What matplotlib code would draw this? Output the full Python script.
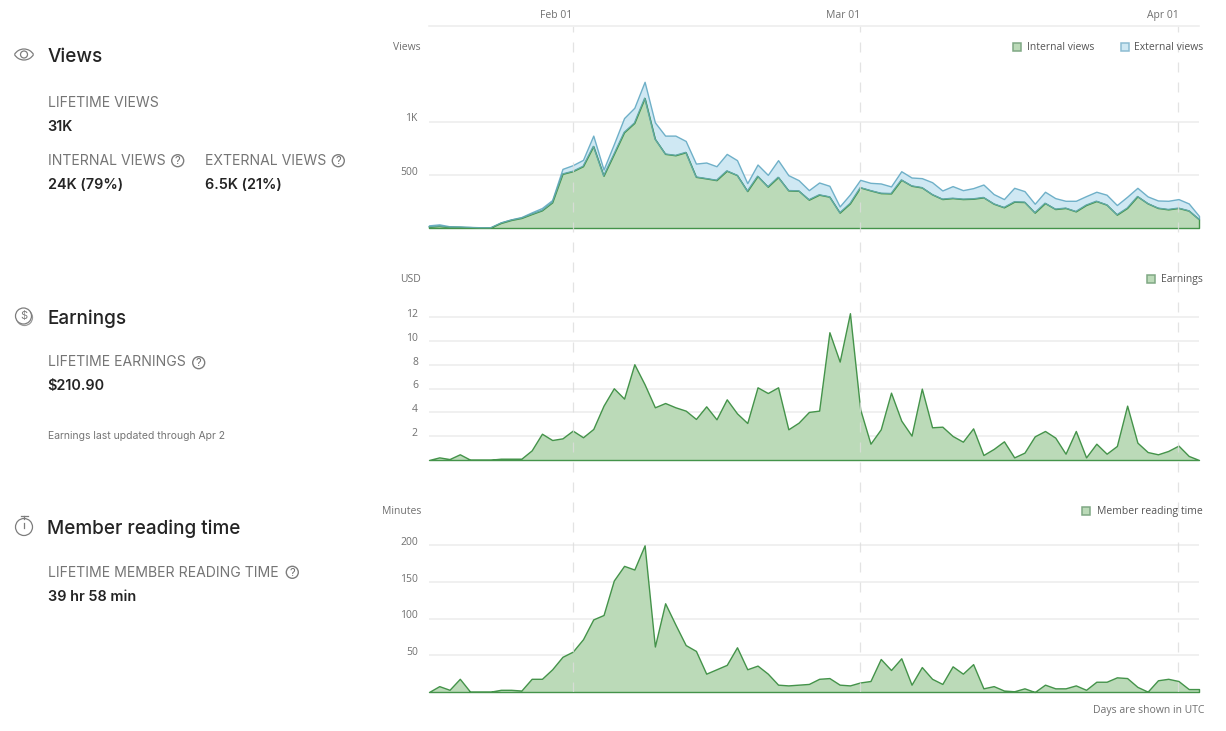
import numpy as np
import pandas as pd
import matplotlib
matplotlib.use("Agg")
import matplotlib.pyplot as plt
from matplotlib.patches import Circle, Rectangle, Arc
from matplotlib.transforms import ScaledTranslation

# Daily values (Jan 18 .. Apr 3)
dates = pd.date_range("2023-01-18", "2023-04-03", freq="D")

internal_views = [12, 19, 9, 9, 6, 3, 3, 47, 75, 94, 131, 166, 241, 509, 534, 581, 769, 491, 694,
                  900, 988, 1222, 838, 697, 684, 712, 481, 466, 450, 538, 497, 347, 488, 388, 478,
                  353, 350, 266, 313, 294, 144, 231, 381, 353, 328, 325, 453, 397, 381, 316, 272,
                  281, 272, 275, 288, 228, 194, 247, 244, 144, 234, 178, 188, 156, 216, 253, 219,
                  125, 188, 297, 231, 188, 175, 188, 163, 81]
total_views = [25, 34, 16, 12, 9, 3, 3, 53, 81, 103, 147, 188, 263, 556, 591, 641, 869, 550, 788,
               1034, 1131, 1375, 994, 869, 869, 819, 606, 616, 581, 697, 638, 422, 597, 500, 638,
               497, 450, 356, 428, 397, 203, 316, 453, 425, 419, 391, 534, 475, 469, 431, 353,
               394, 356, 375, 409, 319, 272, 378, 347, 228, 341, 281, 256, 256, 300, 341, 313,
               216, 294, 378, 297, 259, 256, 272, 231, 113]
earnings = [0, 0.22, 0.08, 0.48, 0.03, 0.03, 0.03, 0.11, 0.11, 0.11, 0.81, 2.21, 1.68, 1.82, 2.47,
            1.91, 2.61, 4.57, 6.03, 5.16, 8.05, 6.36, 4.43, 4.79, 4.43, 4.15, 3.45, 4.51, 3.42, 5.1,
            3.92, 3.11, 6.11, 5.63, 6.11, 2.58, 3.14, 4.04, 4.15, 10.74, 8.27, 12.34, 4.26, 1.37,
            2.58, 5.66, 3.31, 2.05, 6.0, 2.75, 2.8, 2.02, 1.54, 2.66, 0.42, 0.93, 1.57, 0.22, 0.62,
            1.99, 2.44, 1.88, 0.53, 2.44, 0.22, 1.37, 0.53, 1.18, 4.57, 1.46, 0.67, 0.48, 0.76, 1.21,
            0.34, 0]
reading_time = [0, 8, 3, 18, 0.5, 0.5, 0.5, 3, 3, 2, 18, 18, 31, 48, 55, 72, 99, 105, 152, 172, 167,
                200, 62, 121, 92, 64, 56, 25, 31, 37, 61, 31, 36, 25, 10, 9, 10, 11, 18, 19, 10, 9,
                13, 15, 45, 30, 46, 10, 34, 18, 11, 35, 25, 38, 5, 8, 2, 1, 5, 0, 10, 5, 5, 9, 3, 14,
                14, 20, 19, 7, 0.5, 16, 18, 15, 4, 4]

month_ticks = pd.to_datetime(["2023-02-01", "2023-03-01", "2023-04-01"])
month_labels = ["Feb 01", "Mar 01", "Apr 01"]

GREEN_FILL = "#bbdab8"
GREEN_LINE = "#44934a"
BLUE_FILL = "#cfe8f3"
BLUE_LINE = "#6fb0c8"
TEAL_LINE = "#62a9a8"
GRID = "#eeeeee"
ICON = "#7d7d7d"
CHART_TEXT = "#707070"
DARK = "#242424"
MUTED = "#757575"
UI_FONT = "Inter"
CHART_FONT = "Open Sans"
CHART_SIZE = 7.5

W, H = 1226, 731
fig = plt.figure(figsize=(W / 100, H / 100), dpi=100)


def chart_axes(top, bottom, ymax, ticks, labels):
    # pixel box -> figure fractions
    ax = fig.add_axes([429 / W, 1 - bottom / H, 770 / W, (bottom - top) / H])
    ax.set_xlim(dates[0], dates[-1])
    ax.set_ylim(0, ymax)
    ax.set_yticks(ticks, labels)
    ax.tick_params(axis="y", length=0, pad=8, labelsize=CHART_SIZE, labelcolor=CHART_TEXT)
    # tick labels sit a little above their gridlines
    lift = ScaledTranslation(0, 4.2 / 100, fig.dpi_scale_trans)
    for lab in ax.get_yticklabels():
        lab.set_fontfamily(CHART_FONT)
        lab.set_transform(lab.get_transform() + lift)
    ax.set_xticks([])
    ax.grid(axis="y", color=GRID, lw=1.2)
    ax.set_axisbelow(True)
    for s in ax.spines.values():
        s.set_visible(False)
    ax.patch.set_alpha(0)
    return ax


def green_area(ax, y):
    ax.fill_between(dates, 0, y, facecolor=GREEN_FILL, edgecolor=GREEN_LINE, lw=1.0, clip_on=False)


ax1 = chart_axes(26, 228, 1900, [500, 1000], ["500", "1K"])
ax1.fill_between(dates, internal_views, total_views, facecolor=BLUE_FILL, edgecolor=BLUE_LINE,
                 lw=1.0, clip_on=False)
ax1.fill_between(dates, 0, internal_views, facecolor=GREEN_FILL, edgecolor=GREEN_LINE, lw=1.0,
                 clip_on=False)
ax1.plot(dates, internal_views, color=TEAL_LINE, lw=0.9, clip_on=False)

ax2 = chart_axes(270, 460, 15.97, [2, 4, 6, 8, 10, 12], ["2", "4", "6", "8", "10", "12"])
green_area(ax2, earnings)

ax3 = chart_axes(500, 692, 261.8, [50, 100, 150, 200], ["50", "100", "150", "200"])
green_area(ax3, reading_time)

# dashed month lines run through all three charts, labels on top
top = fig.add_axes([429 / W, 1 - 692 / H, 770 / W, (692 - 26) / H])
top.patch.set_alpha(0)
top.set_xlim(dates[0], dates[-1])
top.set_ylim(0, 1)
top.set_yticks([])
for s in top.spines.values():
    s.set_visible(False)
top.spines["top"].set_visible(True)
top.spines["top"].set_color(GRID)
top.spines["top"].set_linewidth(1.2)
top.xaxis.tick_top()
top.set_xticks(month_ticks, month_labels)
top.tick_params(axis="x", length=0, pad=3.5, labelsize=CHART_SIZE, labelcolor=CHART_TEXT)
for lab in top.get_xticklabels():
    lab.set_ha("right")
    lab.set_fontfamily(CHART_FONT)
for d in month_ticks:
    top.axvline(d, color="#dddddd", lw=0.9, ls=(0, (8, 8)), alpha=0.8)

# text and icons, in pixel coordinates
ui = fig.add_axes([0, 0, 1, 1])
ui.set_xlim(0, W)
ui.set_ylim(H, 0)
ui.axis("off")
ui.patch.set_alpha(0)


def label(x, y, s, size, color, weight="normal", family=UI_FONT, ha="left", va="baseline"):
    ui.text(x, y, s, fontsize=size, color=color, fontweight=weight, family=family, ha=ha, va=va)


def chart_label(x, y, s, color=CHART_TEXT, ha="right"):
    label(x, y, s, CHART_SIZE, color, family=CHART_FONT, ha=ha, va="center")


def help_icon(x, y):
    ui.add_patch(Circle((x, y), 6, fc="none", ec=ICON, lw=1))
    label(x, y + 0.3, "?", 8, "#6b6b6b", ha="center", va="center")


for y, s in [(61.7, "Views"), (324.3, "Earnings"), (533.7, "Member reading time")]:
    label(47.3, y, s, 13.6, DARK, weight="medium")

for x, y, s in [(48, 107.3, "LIFETIME VIEWS"), (48, 165, "INTERNAL VIEWS"), (205, 165, "EXTERNAL VIEWS"),
                (48, 366.3, "LIFETIME EARNINGS"), (48, 576.7, "LIFETIME MEMBER READING TIME")]:
    label(x, y, s, 10.1, MUTED)

for x, y, s in [(47.5, 131, "31K"), (47.5, 189, "24K (79%)"), (205, 189, "6.5K (21%)"),
                (47.5, 390.3, "$210.90"), (47.5, 600.7, "39 hr 58 min")]:
    label(x, y, s, 10.4, DARK, weight="semibold")

label(47.5, 439.3, "Earnings last updated through Apr 2", 7.5, MUTED)

for x, y in [(177.7, 160.7), (338.3, 160.7), (198.7, 362.7), (292.3, 572.3)]:
    help_icon(x, y)

# chart unit captions
for y, s in [(47.5, "Views"), (279.5, "USD"), (511.5, "Minutes")]:
    chart_label(421, y, s)

# legends
for x, y, fc, ec in [(1012.5, 42.5, GREEN_FILL, "#7fa884"), (1120.5, 42.5, BLUE_FILL, "#8dbcd2"),
                     (1147, 274.5, GREEN_FILL, "#7fa884"), (1082, 506.5, GREEN_FILL, "#7fa884")]:
    ui.add_patch(Rectangle((x, y), 8, 8, fc=fc, ec=ec, lw=1.1))
chart_label(1027, 47.5, "Internal views", "#555555", ha="left")
chart_label(1203, 47.5, "External views", "#555555")
chart_label(1203, 279.5, "Earnings", "#555555")
chart_label(1203, 511.5, "Member reading time", "#555555")
chart_label(1204, 710.5, "Days are shown in UTC")

# eye
ui.add_patch(Arc((24, 60), 22, 22, theta1=210, theta2=330, color=ICON, lw=0.9))
ui.add_patch(Arc((24, 49), 22, 22, theta1=30, theta2=150, color=ICON, lw=0.9))
ui.add_patch(Circle((24, 54.5), 3.5, fc="none", ec=ICON, lw=0.9))
# coins
ui.add_patch(Circle((24.5, 317.5), 8, fc="white", ec="#9a9a9a", lw=0.9))
ui.add_patch(Circle((23.5, 316), 8, fc="white", ec=ICON, lw=0.9))
label(23.5, 316, "$", 8, ICON, ha="center", va="center")
# stopwatch
ui.add_patch(Circle((24, 527), 8.5, fc="none", ec=ICON, lw=0.9))
ui.plot([24, 24], [523, 528], color=ICON, lw=0.9)
ui.plot([20.5, 27.5], [516, 516], color=ICON, lw=0.9)
ui.plot([24, 24], [516, 518.5], color=ICON, lw=0.9)

fig.savefig("out.png", dpi=100, facecolor="white")
